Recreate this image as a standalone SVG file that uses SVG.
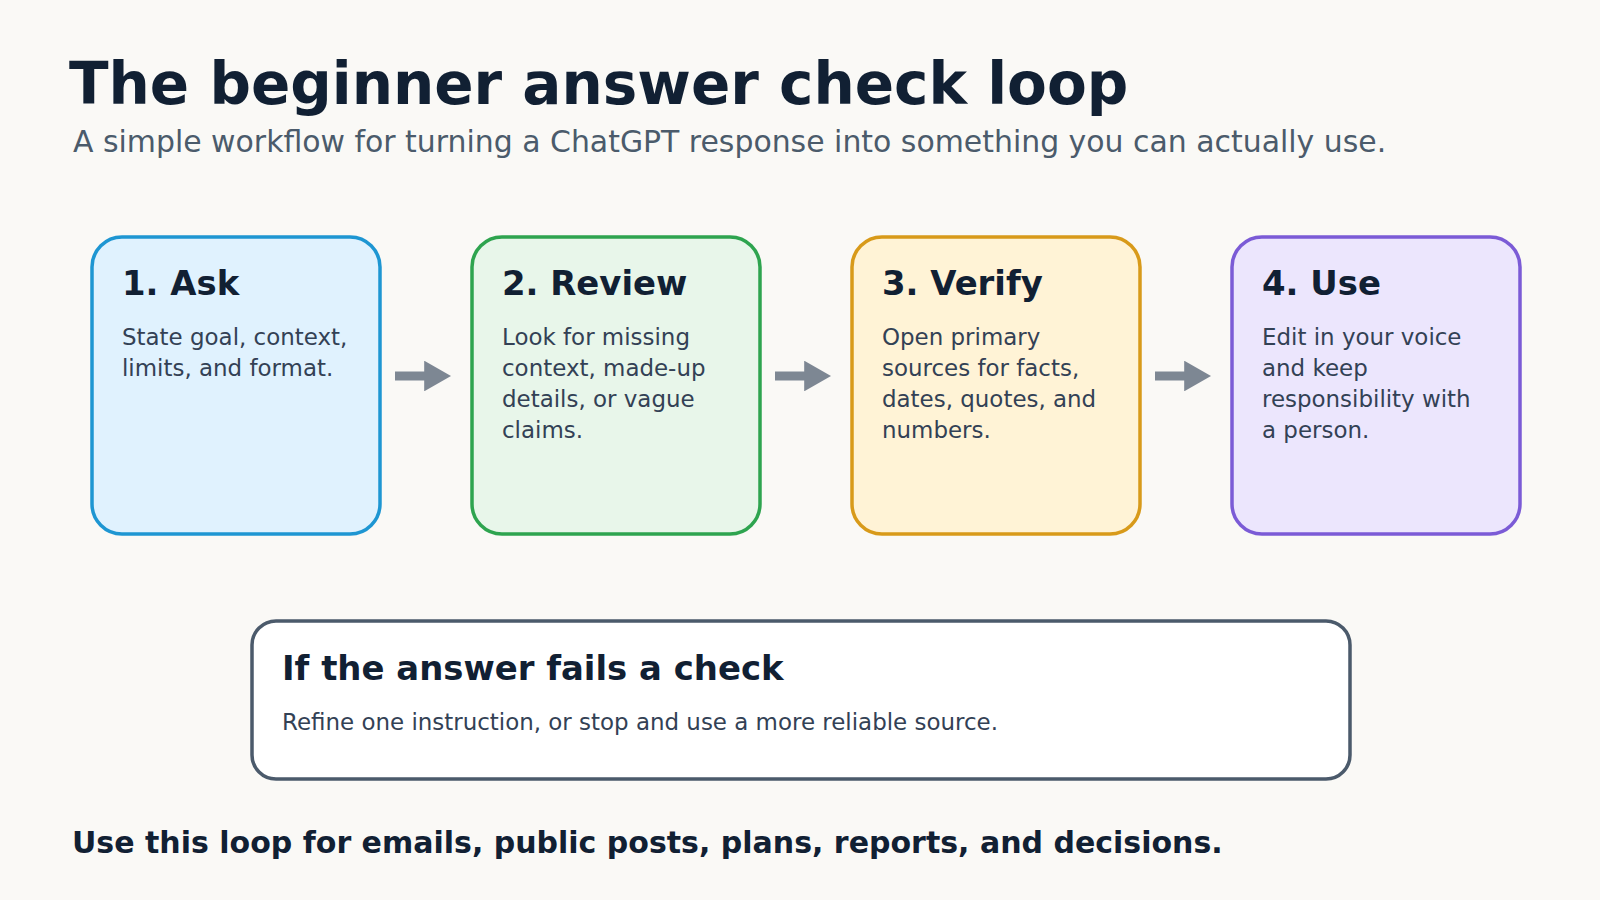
<svg xmlns="http://www.w3.org/2000/svg" width="1600" height="900" viewBox="0 0 1600 900">
<style>
text{font-family:"DejaVu Sans",sans-serif}
.h{font-weight:bold;font-size:33.9px;fill:#112033}
.b{font-size:22.95px;fill:#334155}
.box{stroke-width:3.5}
.ar{stroke:#7d8793;stroke-width:9;fill:none}
</style>
<defs><marker id="m" markerWidth="3" markerHeight="3.4" refX="1.2" refY="1.7" orient="auto" markerUnits="strokeWidth"><path d="M0,0 L3,1.7 L0,3.4 Z" fill="#7d8793"/></marker></defs>
<rect width="1600" height="900" fill="#faf9f6"/>
<text x="69" y="104" font-size="58" font-weight="bold" fill="#112033">The beginner answer check loop</text>
<text x="73" y="152" font-size="29.9" fill="#4b5b6b">A simple workflow for turning a ChatGPT response into something you can actually use.</text>
<g id="n1"><rect class="box" x="92" y="237" width="288" height="297" rx="30" fill="#e0f2fe" stroke="#1e96d2"/>
<text class="h" x="122" y="295">1. Ask</text><text class="b" x="122" y="345">State goal, context,</text><text class="b" x="122" y="376">limits, and format.</text></g>
<g id="n2"><rect class="box" x="472" y="237" width="288" height="297" rx="30" fill="#e8f6ea" stroke="#2ea44f"/>
<text class="h" x="502" y="295">2. Review</text><text class="b" x="502" y="345">Look for missing</text><text class="b" x="502" y="376">context, made-up</text><text class="b" x="502" y="407">details, or vague</text><text class="b" x="502" y="438">claims.</text></g>
<g id="n3"><rect class="box" x="852" y="237" width="288" height="297" rx="30" fill="#fff3d6" stroke="#d89a1a"/>
<text class="h" x="882" y="295">3. Verify</text><text class="b" x="882" y="345">Open primary</text><text class="b" x="882" y="376">sources for facts,</text><text class="b" x="882" y="407">dates, quotes, and</text><text class="b" x="882" y="438">numbers.</text></g>
<g id="n4"><rect class="box" x="1232" y="237" width="288" height="297" rx="30" fill="#ece6fd" stroke="#7b5bd6"/>
<text class="h" x="1262" y="295">4. Use</text><text class="b" x="1262" y="345">Edit in your voice</text><text class="b" x="1262" y="376">and keep</text><text class="b" x="1262" y="407">responsibility with</text><text class="b" x="1262" y="438">a person.</text></g>
<g id="n5"><rect x="252" y="621" width="1098" height="158" rx="24" fill="#ffffff" stroke="#4b5a6b" stroke-width="3.5"/>
<text class="h" x="282" y="680">If the answer fails a check</text><text class="b" x="282" y="730">Refine one instruction, or stop and use a more reliable source.</text></g>
<g id="connectors">
<line class="ar" x1="395" y1="376" x2="435" y2="376" marker-end="url(#m)"/>
<line class="ar" x1="775" y1="376" x2="815" y2="376" marker-end="url(#m)"/>
<line class="ar" x1="1155" y1="376" x2="1195" y2="376" marker-end="url(#m)"/>
</g>
<text x="72" y="853" font-size="30" font-weight="bold" fill="#112033">Use this loop for emails, public posts, plans, reports, and decisions.</text>
</svg>
